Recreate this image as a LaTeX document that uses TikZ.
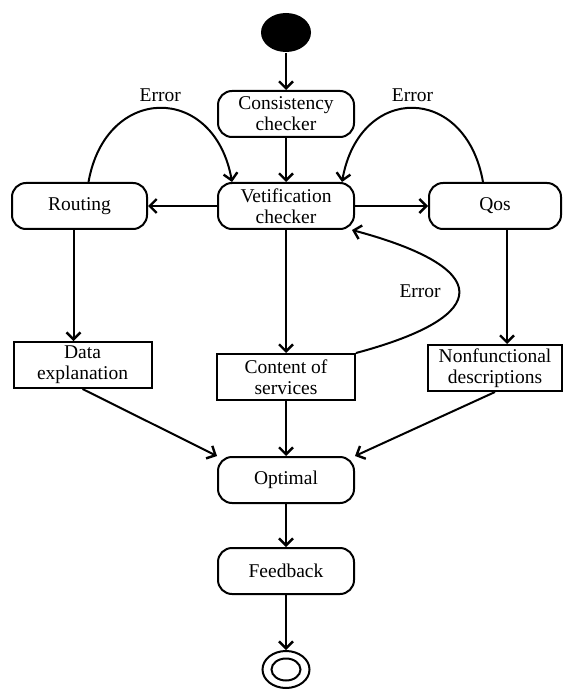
\documentclass[tikz,border=0pt]{standalone}
\usepackage{fontspec}
\setmainfont{Liberation Serif}
\usetikzlibrary{positioning}
\usetikzlibrary{arrows.meta}
\usetikzlibrary{shapes.geometric}

\begin{document}
\begin{tikzpicture}[x=1pt, y=-1pt, line width=2pt,
        >={Straight Barb[length=7pt,width=14pt,line width=2.4pt]},
        font=\fontsize{19.5}{21}\selectfont]

        % Boxes of the activity chart
        \tikzset{
            act/.style={draw, rounded corners=14pt, minimum width=136pt,
                minimum height=46pt, inner sep=1pt, align=center},
            obj/.style={draw, minimum width=138pt, minimum height=46pt,
                inner sep=1pt, align=center}
        }

        \useasboundingbox (0,0) rectangle (566,692);

        \begin{scope}
            \node (C) [act] at (286,114) {Consistency\\checker};
            \node (S) [above=37pt of C, ellipse, fill, inner sep=0pt,
                minimum width=50pt, minimum height=39pt] {};
            \node (V) [act, below=44pt of C] {Vetification\\checker};
            \node (R) [act, left=69pt of V, minimum width=135pt] {Routing};
            \node (Q) [act, right=73pt of V, minimum width=132pt] {Qos};

            \node (D) [obj, below=111pt of R, xshift=3pt] {Data\\explanation};
            \node (CS) [obj, below=123pt of V] {Content of\\services};
            \node (N) [obj, below=114pt of Q, minimum width=134pt] {Nonfunctional\\descriptions};

            \node (O) [act, below=55pt of CS] {Optimal};
            \node (F) [act, below=43pt of O] {Feedback};
            \node (E) [below=55pt of F, ellipse, draw, inner sep=0pt,
                minimum width=47pt, minimum height=37pt] {};
            \node (E2) at (E) [ellipse, draw, inner sep=0pt,
                minimum width=29pt, minimum height=22pt] {};
        \end{scope}

        \begin{scope}[->]
            \draw (S) -- (C);
            \draw (C) -- (V);
            \draw (V) -- (R);
            \draw (V) -- (Q);
            \draw (V) -- (CS);
            \draw ([xshift=-6pt]R.south) -- ([xshift=-9pt]D.north);
            \draw ([xshift=12pt]Q.south) -- ([xshift=12pt]N.north);

            \draw ([xshift=9pt]R.north) to[out=80, in=100, distance=100pt]
                node[midway, above=2pt] (e1) {Error} ([xshift=-54pt]V.north);
            \draw ([xshift=-12pt]Q.north) to[out=100, in=80, distance=100pt]
                node[midway, above=2pt] (e2) {Error} ([xshift=56pt]V.north);
            \draw (CS.north east) to[out=15, in=-15, distance=145pt]
                node[midway, left=14pt] (e3) {Error} ([xshift=-3pt]V.south east);

            \draw (D.south) -- (O.north west);
            \draw (CS) -- (O);
            \draw (N.south) -- (O.north east);
            \draw (O) -- (F);
            \draw (F) -- (E);
        \end{scope}

\end{tikzpicture}
\end{document}
